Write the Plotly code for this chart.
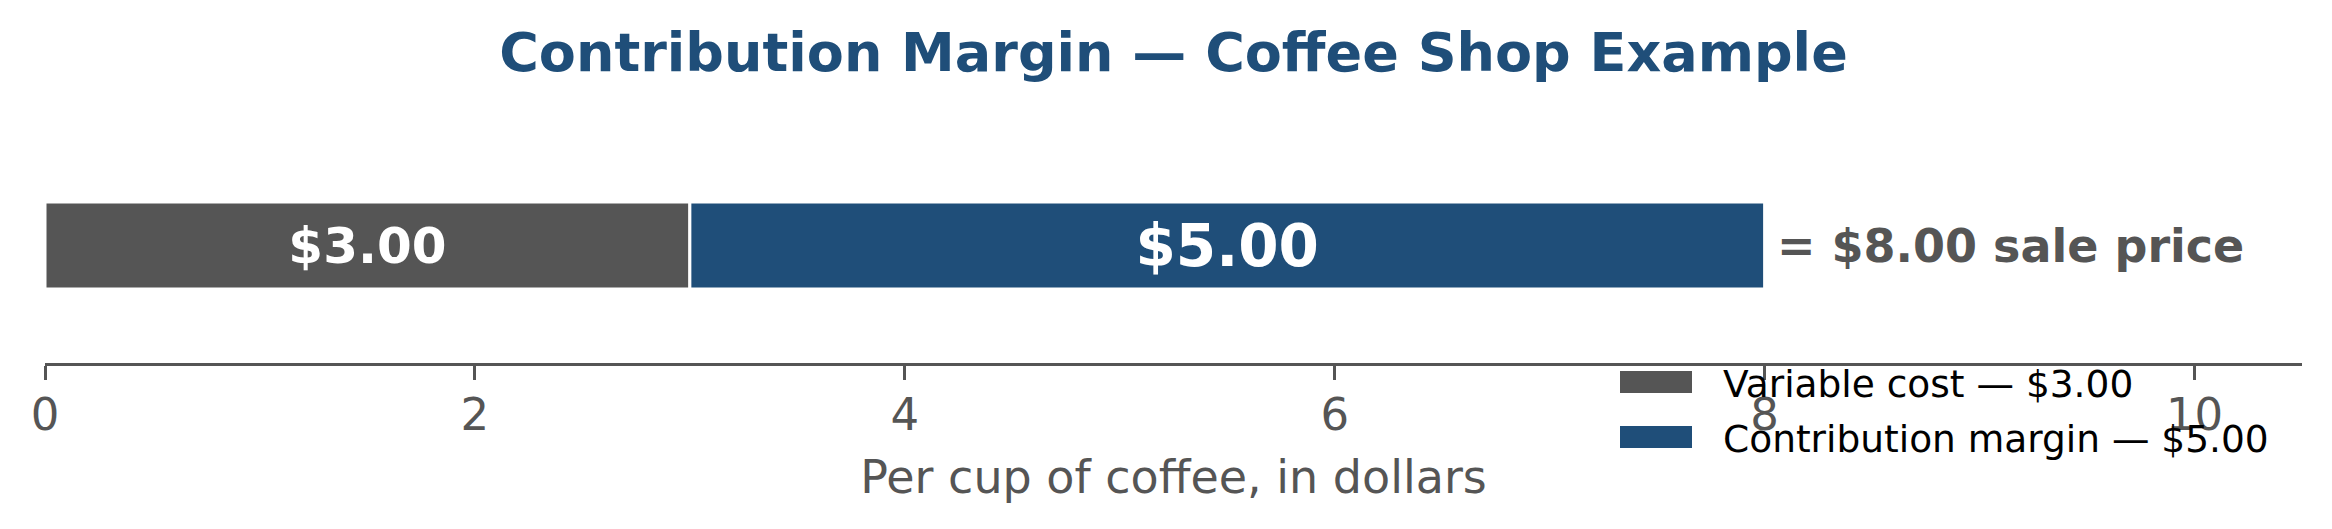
import plotly.graph_objects as go

# per cup values
items = ["Variable cost", "Contribution margin"]
amounts = [3.00, 5.00]
colors = ["#555555", "#1f4e79"]
label_sizes = [50, 58]

sale_price = sum(amounts)
FONT = "DejaVu Sans"

# page body adds 8px around the figure
W, H = 2316, 513
L, R, T, B = 37, 22, 120, 158
plot_w = W - L - R
plot_h = H - T - B


def px_x(x):
    return (x - L) / plot_w


def px_y(y):
    return (H - B - y) / plot_h


fig = go.Figure()

base = 0
for i, (name, amt, col, fs) in enumerate(zip(items, amounts, colors, label_sizes)):
    fig.add_trace(go.Bar(
        x=[amt], y=[0], base=[base], orientation="h", width=0.5, name=name,
        marker=dict(color=col, line=dict(color="white", width=3)),
        text=["<b>$%.2f</b>" % amt], textposition="inside",
        insidetextanchor="middle", constraintext="none",
        textfont=dict(family=FONT, size=fs, color="white"),
        showlegend=False, hoverinfo="skip",
    ))
    base += amt

    # legend entry (wide swatch + label), like the matplotlib legend
    row = 374 + i * 55
    fig.add_shape(type="rect", xref="paper", yref="paper",
                  x0=px_x(1612), x1=px_x(1684), y0=px_y(row - 11), y1=px_y(row + 11),
                  fillcolor=col, line=dict(width=0))
    fig.add_annotation(x=px_x(1713), y=px_y(row + 2), xref="paper", yref="paper",
                       xanchor="left", yanchor="middle", showarrow=False,
                       text="%s — $%.2f" % (name, amt),
                       font=dict(family=FONT, size=37.5, color="black"))

fig.add_annotation(
    x=sale_price, y=0, xref="x", yref="y", xanchor="left", yanchor="middle",
    xshift=10, showarrow=False,
    text="<b>= $%.2f sale price</b>" % sale_price,
    font=dict(family=FONT, size=46, color="#555555"),
)

fig.update_layout(
    width=W, height=H,
    paper_bgcolor="white", plot_bgcolor="white",
    margin=dict(l=L, r=R, t=T, b=B),
    barmode="overlay", showlegend=False,
    font=dict(family=FONT, color="#555555"),
    title=dict(
        text="<b>Contribution Margin — Coffee Shop Example</b>",
        x=0.5, xref="paper", xanchor="center",
        y=1 - 44 / H, yref="container", yanchor="middle",
        font=dict(family=FONT, size=54, color="#1f4e79"),
    ),
)

fig.update_xaxes(
    range=[0, 10.5], tickvals=[0, 2, 4, 6, 8, 10],
    showgrid=False, zeroline=False,
    showline=True, linecolor="#555555", linewidth=3,
    ticks="outside", ticklen=14, tickwidth=3, tickcolor="#555555",
    ticklabelstandoff=-4,
    tickfont=dict(family=FONT, size=45, color="#555555"),
    title=dict(text="Per cup of coffee, in dollars", standoff=21,
               font=dict(family=FONT, size=46, color="#555555")),
)
fig.update_yaxes(range=[-0.675, 0.675], visible=False)

fig.write_html("out.html")
